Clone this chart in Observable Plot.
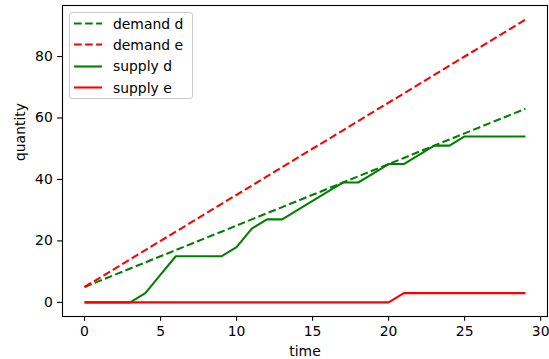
<!DOCTYPE html>
<html>
<head>
<meta charset="utf-8">
<script src="https://cdn.jsdelivr.net/npm/d3@7"></script>
<script src="https://cdn.jsdelivr.net/npm/@observablehq/plot@0.6"></script>
<style>
  body { margin: 0; background: white; }
  #wrap { position: relative; width: 549px; height: 359px; font-family: "DejaVu Sans", sans-serif; }
  #legend { position: absolute; left: 69px; top: 12px; width: 124px; height: 87px; box-sizing: border-box;
            border: 1px solid #cccccc; border-radius: 3px; background: rgba(255,255,255,0.8); padding-top: 0px; }
  .row { display: flex; align-items: center; height: 21.3px; font-size: 13.9px; color: black; }
  .row svg { margin-left: 4px; }
  .row span { margin-left: 11px; white-space: nowrap; }
</style>
</head>
<body>
<div id="wrap"><div id="chart"></div><div id="legend"></div></div>
<script>
const time = [0,1,2,3,4,5,6,7,8,9,10,11,12,13,14,15,16,17,18,19,20,21,22,23,24,25,26,27,28,29];
const demandD = [5,7,9,11,13,15,17,19,21,23,25,27,29,31,33,35,37,39,41,43,45,47,49,51,53,55,57,59,61,63];
const demandE = [5,8,11,14,17,20,23,26,29,32,35,38,41,44,47,50,53,56,59,62,65,68,71,74,77,80,83,86,89,92];
const supplyD = [0,0,0,0,3,9,15,15,15,15,18,24,27,27,30,33,36,39,39,42,45,45,48,51,51,54,54,54,54,54];
const supplyE = [0,0,0,0,0,0,0,0,0,0,0,0,0,0,0,0,0,0,0,0,0,3,3,3,3,3,3,3,3,3];
const xTicks = [0,5,10,15,20,25,30];
const yTicks = [0,20,40,60,80];

const seriesList = [
  {name: "demand d", values: demandD, color: "green", dashed: true},
  {name: "demand e", values: demandE, color: "red", dashed: true},
  {name: "supply d", values: supplyD, color: "green", dashed: false},
  {name: "supply e", values: supplyE, color: "red", dashed: false}
];
const dash = "7.7,3.33";
const lw = 2.08;

const lineMarks = seriesList.map(s =>
  Plot.line(time.map((t, i) => ({t, v: s.values[i]})), {
    x: "t", y: "v", stroke: s.color, strokeWidth: lw,
    strokeDasharray: s.dashed ? dash : null, strokeLinecap: "butt", strokeLinejoin: "round"
  })
);

const chart = Plot.plot({
  width: 549, height: 359,
  marginLeft: 62, marginRight: 2, marginTop: 5, marginBottom: 43,
  style: {fontFamily: "DejaVu Sans", fontSize: "13.9px", color: "black", background: "white", overflow: "visible"},
  x: {domain: [-1.45, 30.45]},
  y: {domain: [-4.6, 96.6]},
  marks: [
    ...lineMarks,
    Plot.frame({stroke: "black", strokeWidth: 1.1}),
    Plot.axisX({ticks: xTicks, tickSize: 4.86, tickPadding: 4.86, label: null, strokeWidth: 1.1, fontSize: 13.9}),
    Plot.axisY({ticks: yTicks, tickSize: 4.86, tickPadding: 4.86, label: null, strokeWidth: 1.1, fontSize: 13.9}),
    Plot.text(["time"], {frameAnchor: "bottom", dy: 35, fontSize: 13.9, lineAnchor: "middle"}),
    Plot.text(["quantity"], {frameAnchor: "left", dx: -42, rotate: -90, fontSize: 13.9, lineAnchor: "middle"})
  ]
});
document.getElementById("chart").appendChild(chart);

const legend = document.getElementById("legend");
for (const s of seriesList) {
  const row = document.createElement("div");
  row.className = "row";
  row.innerHTML = `<svg width="28" height="21" style="overflow:visible"><line x1="0" x2="28" y1="10.5" y2="10.5" stroke="${s.color}" stroke-width="${lw}" ${s.dashed ? `stroke-dasharray="${dash}"` : ""}/></svg><span>${s.name}</span>`;
  legend.appendChild(row);
}
</script>
</body>
</html>
